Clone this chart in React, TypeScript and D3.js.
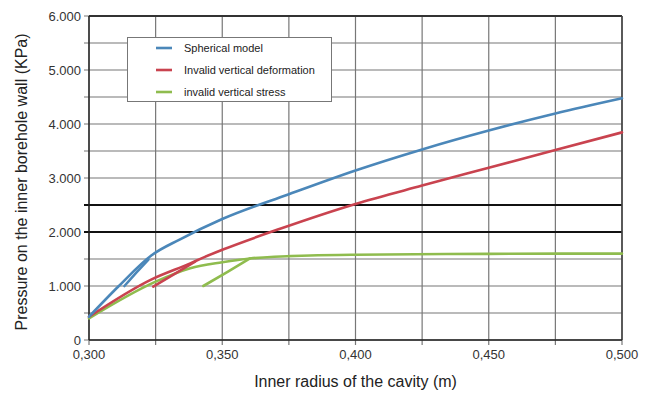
import React, { useEffect, useRef } from 'react';
import * as d3 from 'd3';

// radius of the cavity (m) and pressures (kPa)
const sphericalX = [0.300, 0.311, 0.3235, 0.334, 0.350, 0.375, 0.400, 0.425, 0.450, 0.475, 0.500];
const sphericalY = [430, 990, 1570, 1860, 2240, 2700, 3140, 3530, 3880, 4195, 4476];
const sphericalBranchX = [0.3133, 0.3180, 0.3223];
const sphericalBranchY = [1000, 1260, 1490];

const deformX = [0.300, 0.3235, 0.338, 0.3435, 0.350, 0.3717, 0.400, 0.425, 0.450, 0.475, 0.500];
const deformY = [430, 1124, 1420, 1540, 1670, 2060, 2520, 2860, 3190, 3520, 3845];
const deformBranchX = [0.3241, 0.332, 0.3398];
const deformBranchY = [990, 1220, 1450];

const stressX = [0.300, 0.325, 0.338, 0.350, 0.3604, 0.383, 0.400, 0.450, 0.500];
const stressY = [400, 1080, 1330, 1440, 1510, 1565, 1580, 1595, 1600];
const stressBranchX = [0.3429, 0.352, 0.3604];
const stressBranchY = [1000, 1260, 1512];

const xTicks = [0.300, 0.350, 0.400, 0.450, 0.500];
const xGrid = [0.300, 0.325, 0.350, 0.375, 0.400, 0.425, 0.450, 0.475, 0.500];
const yTicks = [0, 1000, 2000, 3000, 4000, 5000, 6000];
const yGrid = [0, 500, 1000, 1500, 2000, 2500, 3000, 3500, 4000, 4500, 5000, 5500, 6000];
const boldGrid = [2000, 2500];

const seriesNames = ['Spherical model', 'Invalid vertical deformation', 'invalid vertical stress'];
const seriesColors = ['#4b87b9', '#c9434f', '#8fbc4e'];

const zip = (xs: number[], ys: number[]) => xs.map((x, i) => [x, ys[i]] as [number, number]);

const App = () => {
  const svgRef = useRef<SVGSVGElement>(null);

  useEffect(() => {
    const width = 654;
    const height = 395;
    const left = 89, right = 622, top = 16, bottom = 340;
    const font = "'Liberation Sans', Arial, sans-serif";

    const svg = d3.select(svgRef.current);
    svg.selectAll('*').remove();
    svg.attr('width', width).attr('height', height);

    svg.append('rect').attr('width', width).attr('height', height).attr('fill', '#fff');

    const x = d3.scaleLinear().domain([0.3, 0.5]).range([left, right]);
    const y = d3.scaleLinear().domain([0, 6000]).range([bottom, top]);

    // grid
    svg.append('g').selectAll('line').data(xGrid).enter().append('line')
      .attr('x1', d => x(d)).attr('x2', d => x(d))
      .attr('y1', top).attr('y2', bottom + 5)
      .attr('stroke', '#777').attr('stroke-width', 1.2);

    svg.append('g').selectAll('line').data(yGrid).enter().append('line')
      .attr('x1', left - 5).attr('x2', right)
      .attr('y1', d => y(d)).attr('y2', d => y(d))
      .attr('stroke', d => boldGrid.includes(d) ? '#111' : '#777')
      .attr('stroke-width', d => boldGrid.includes(d) ? 2 : 1.2);

    // frame
    svg.append('line').attr('x1', left).attr('x2', right).attr('y1', top).attr('y2', top)
      .attr('stroke', '#333').attr('stroke-width', 2);
    svg.append('line').attr('x1', right).attr('x2', right).attr('y1', top).attr('y2', bottom)
      .attr('stroke', '#444').attr('stroke-width', 1.6);
    svg.append('line').attr('x1', left).attr('x2', left).attr('y1', top).attr('y2', bottom)
      .attr('stroke', '#222').attr('stroke-width', 1.4);
    svg.append('line').attr('x1', left).attr('x2', right).attr('y1', bottom).attr('y2', bottom)
      .attr('stroke', '#222').attr('stroke-width', 1.4);

    // tick labels
    svg.append('g').selectAll('text').data(yTicks).enter().append('text')
      .attr('x', left - 8).attr('y', d => y(d)).attr('dy', '0.35em')
      .attr('text-anchor', 'end').attr('font-family', font).attr('font-size', 13)
      .attr('fill', '#333')
      .text(d => d === 0 ? '0' : d3.format(',')(d).replace(',', '.'));

    svg.append('g').selectAll('text').data(xTicks).enter().append('text')
      .attr('x', d => x(d)).attr('y', bottom + 19)
      .attr('text-anchor', 'middle').attr('font-family', font).attr('font-size', 13)
      .attr('fill', '#333')
      .text(d => d3.format('.3f')(d).replace('.', ','));

    // axis titles
    svg.append('text').attr('x', (left + right) / 2).attr('y', 387)
      .attr('text-anchor', 'middle').attr('font-family', font).attr('font-size', 16)
      .attr('fill', '#222').text('Inner radius of the cavity (m)');
    svg.append('text')
      .attr('transform', `translate(27,${(top + bottom) / 2 + 4}) rotate(-90)`)
      .attr('text-anchor', 'middle').attr('font-family', font).attr('font-size', 16)
      .attr('fill', '#222').text('Pressure on the inner borehole wall (KPa)');

    // lines
    const smooth = d3.line<[number, number]>()
      .x(d => x(d[0])).y(d => y(d[1]))
      .curve(d3.curveMonotoneX);
    const straight = d3.line<[number, number]>()
      .x(d => x(d[0])).y(d => y(d[1]));

    const paths: [[number, number][], string, boolean][] = [
      [zip(stressX, stressY), seriesColors[2], true],
      [zip(stressBranchX, stressBranchY), seriesColors[2], false],
      [zip(deformX, deformY), seriesColors[1], true],
      [zip(deformBranchX, deformBranchY), seriesColors[1], false],
      [zip(sphericalX, sphericalY), seriesColors[0], true],
      [zip(sphericalBranchX, sphericalBranchY), seriesColors[0], false],
    ];
    paths.forEach(([pts, c, isMain]) => {
      svg.append('path').datum(pts).attr('d', isMain ? smooth : straight)
        .attr('fill', 'none').attr('stroke', c).attr('stroke-width', 2.6)
        .attr('stroke-linecap', 'round');
    });

    // legend
    const lg = svg.append('g');
    lg.append('rect').attr('x', 127.5).attr('y', 37.5).attr('width', 204).attr('height', 64)
      .attr('fill', '#fff').attr('stroke', '#777').attr('stroke-width', 1);
    seriesNames.forEach((name, i) => {
      const ly = 48 + i * 22;
      lg.append('line').attr('x1', 156).attr('x2', 172).attr('y1', ly).attr('y2', ly)
        .attr('stroke', seriesColors[i]).attr('stroke-width', 2.6);
      lg.append('text').attr('x', 184).attr('y', ly).attr('dy', '0.35em')
        .attr('font-family', font).attr('font-size', 11).attr('fill', '#222').text(name);
    });
  }, []);

  return <svg ref={svgRef} style={{ position: 'absolute', left: 0, top: 0 }} />;
};

export default App;
